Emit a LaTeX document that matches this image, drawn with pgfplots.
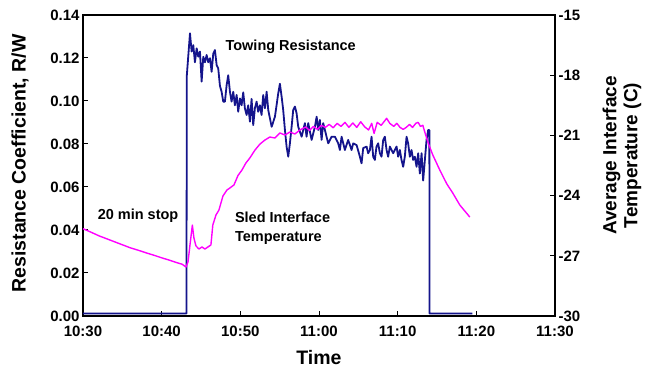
\documentclass[border=0pt]{standalone}
\usepackage{pgfplots}
\pgfplotsset{compat=1.18}
\usepackage{fontspec}
\setmainfont{Liberation Sans}
\definecolor{navyline}{RGB}{20,20,140}
\definecolor{mag}{RGB}{255,0,255}

\pgfplotstableread{
t r
0 0.0012
13.15 0.0012
13.2 0.112
13.6 0.1315
13.81 0.123
14.02 0.126
14.23 0.118
14.45 0.1245
14.65 0.1206
14.87 0.123
15.08 0.109
15.29 0.1206
15.5 0.118
15.72 0.1214
15.92 0.118
16.14 0.1199
16.35 0.1136
16.56 0.122
16.77 0.1237
16.99 0.1167
17.19 0.1152
17.41 0.107
17.62 0.1043
17.83 0.0997
18.04 0.0997
18.26 0.1074
18.46 0.112
18.68 0.1043
18.89 0.0997
19.1 0.1043
19.31 0.098
19.53 0.1028
19.73 0.095
19.95 0.1012
20.16 0.098
20.37 0.104
20.58 0.0966
20.8 0.0935
21.0 0.098
21.22 0.0904
21.43 0.101
21.64 0.0888
21.85 0.0966
22.07 0.0997
22.27 0.095
22.49 0.098
22.7 0.0935
22.91 0.1028
23.13 0.0966
23.34 0.1043
23.55 0.0958
23.98 0.088
24.4 0.0927
24.82 0.1036
25.03 0.108
25.25 0.102
25.45 0.0958
25.67 0.0865
25.88 0.0788
26.09 0.0741
26.3 0.0803
26.52 0.088
26.72 0.0958
26.94 0.0974
27.15 0.0943
27.36 0.088
27.79 0.0834
28.21 0.0897
28.42 0.0834
28.63 0.0897
29.06 0.0819
29.48 0.088
29.7 0.0927
29.9 0.0865
30.11 0.0912
30.33 0.0819
30.53 0.0897
30.75 0.0865
31.17 0.0803
31.6 0.0834
32.02 0.0834
32.44 0.0803
32.66 0.0772
32.87 0.0834
33.29 0.0772
33.71 0.0819
34.14 0.0772
34.35 0.0803
34.78 0.0795
35.2 0.0741
35.41 0.071
35.62 0.0781
36.05 0.0788
36.25 0.0757
36.47 0.0772
36.68 0.0834
36.89 0.0741
37.1 0.0726
37.31 0.0788
37.52 0.0803
37.74 0.0757
37.95 0.0741
38.16 0.0819
38.37 0.0834
38.59 0.0772
38.79 0.0741
39.01 0.0788
39.43 0.0757
39.86 0.0788
40.06 0.0741
40.28 0.0772
40.49 0.0726
40.7 0.0694
40.91 0.0741
41.13 0.0834
41.33 0.0803
41.55 0.0741
41.76 0.0772
41.97 0.0726
42.19 0.0741
42.4 0.0694
42.61 0.0757
42.82 0.0663
43.04 0.0757
43.24 0.063
43.46 0.0726
43.67 0.0819
43.88 0.0865
44.03 0.0865
44.05 0.0012
49.5 0.0012
}\resdata

\pgfplotstableread{
t T
0 -25.65
1 -25.82
2 -26.0
3 -26.15
4 -26.3
5 -26.45
6 -26.6
7 -26.72
8 -26.85
9 -26.97
10 -27.1
11 -27.22
12 -27.35
12.6 -27.42
13.1 -27.56
13.35 -27.3
13.6 -26.46
13.9 -25.47
14.1 -26.11
14.36 -26.51
14.74 -26.66
15.12 -26.56
15.5 -26.66
15.88 -26.56
16.26 -26.46
16.5 -25.47
16.9 -24.97
17.28 -24.72
17.79 -24.02
18.3 -23.72
18.68 -23.62
19.19 -23.47
19.7 -23.0
20.2 -22.73
20.7 -22.38
21.2 -22.13
21.86 -21.73
22.5 -21.43
23.13 -21.23
23.76 -21.08
24.4 -21.13
25.03 -20.88
25.67 -20.98
26.3 -20.83
26.94 -20.93
27.57 -20.73
28.3 -20.58
28.8 -20.75
29.3 -20.55
29.8 -20.7
30.3 -20.5
30.8 -20.6
31.3 -20.45
31.8 -20.62
32.3 -20.4
32.8 -20.55
33.3 -20.35
33.8 -20.6
34.3 -20.38
34.8 -20.6
35.3 -20.32
35.8 -20.57
36.3 -20.73
36.7 -20.4
37.0 -20.9
37.4 -20.35
37.9 -20.5
38.3 -20.3
38.6 -20.15
39.0 -20.4
39.5 -20.55
39.9 -20.4
40.3 -20.6
40.7 -20.7
41.1 -20.6
41.5 -20.45
41.9 -20.6
42.3 -20.4
42.6 -20.35
42.9 -20.55
43.2 -20.5
43.5 -20.9
43.9 -21.4
44.47 -21.98
45.36 -22.73
46.25 -23.42
47.0 -23.87
47.9 -24.47
49.17 -25.07
}\tempdata

\begin{document}
\begin{tikzpicture}
\useasboundingbox (-83bp,-56bp) rectangle (563bp,316bp);
\begin{axis}[
  scale only axis, width=472bp, height=301bp,
  xmin=0, xmax=60, ymin=0, ymax=0.14,
  xtick={0,10,20,30,40,50,60},
  xticklabels={10:30,10:40,10:50,11:00,11:10,11:20,11:30},
  ytick={0,0.02,0.04,0.06,0.08,0.1,0.12,0.14},
  yticklabels={0.00,0.02,0.04,0.06,0.08,0.10,0.12,0.14},
  xtick pos=bottom, ytick pos=left,
  tick align=inside, major tick length=5bp,
  axis line style={line width=1.2bp},
  tick style={line width=1bp, black},
  tick label style={font=\fontsize{15bp}{18bp}\selectfont\bfseries},
  xticklabel style={yshift=-7bp},
  xlabel={Time},
  ylabel={Resistance Coefficient, R/W},
  label style={font=\fontsize{19.5bp}{23bp}\selectfont\bfseries},
  xlabel style={at={([yshift=-42bp]rel axis cs:0.5,0)}, anchor=center},
  ylabel style={at={([xshift=-63bp,yshift=2bp]rel axis cs:0,0.5)}, anchor=center},
  clip=false,
]
\addplot[navyline, line width=1.8bp, line join=round] table[x=t,y=r] {\resdata};
\node[font=\fontsize{14.5bp}{18bp}\selectfont\bfseries] at (axis cs:26.4,0.1251) {Towing Resistance};
\node[font=\fontsize{14.5bp}{18bp}\selectfont\bfseries] at (axis cs:7.0,0.0465) {20 min stop};
\node[font=\fontsize{14.5bp}{19bp}\selectfont\bfseries, align=left, anchor=west, inner sep=0pt] at (axis cs:19.3,0.041) {Sled Interface\\Temperature};
\end{axis}
\begin{axis}[
  scale only axis, width=472bp, height=301bp,
  xmin=0, xmax=60, ymin=-30, ymax=-15,
  axis x line=none, axis y line*=right,
  ytick={-30,-27,-24,-21,-18,-15},
  yticklabels={-30,-27,-24,-21,-18,-15},
  tick align=inside, major tick length=5bp,
  axis line style={line width=1.2bp},
  tick style={line width=1bp, black},
  tick label style={font=\fontsize{15bp}{18bp}\selectfont\bfseries},
  ylabel={Average Interface\\Temperature (C)},
  label style={font=\fontsize{19bp}{21bp}\selectfont\bfseries},
  ylabel style={at={([xshift=67bp,yshift=10bp]rel axis cs:1,0.5)}, anchor=center, align=center},
  clip=false,
]
\addplot[mag, line width=1.4bp, line join=round] table[x=t,y=T] {\tempdata};
\end{axis}
\end{tikzpicture}
\end{document}
